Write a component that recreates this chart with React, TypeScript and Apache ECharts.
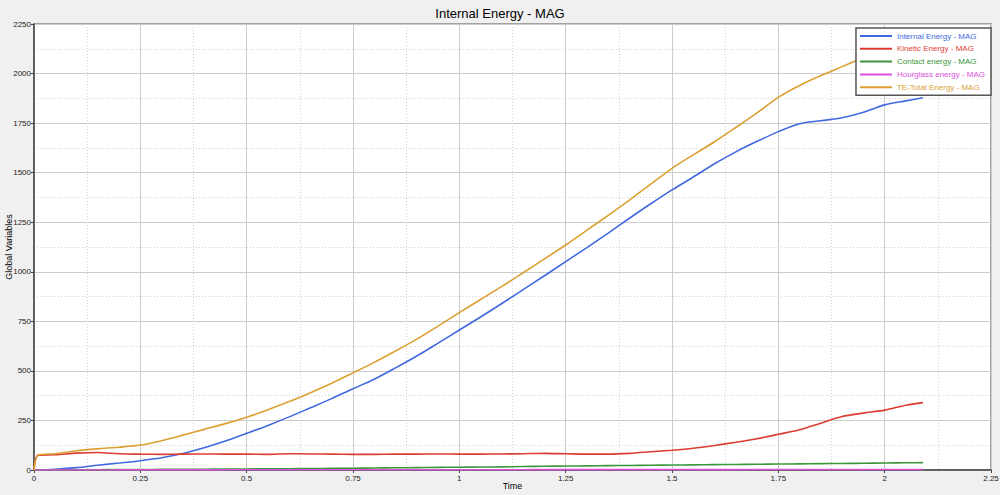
import React, { useEffect, useRef } from "react";
import * as echarts from "echarts";

const timeValues = [0, 0.01, 0.05, 0.1, 0.15, 0.2, 0.25, 0.3, 0.35, 0.4, 0.45, 0.5, 0.55, 0.6, 0.65, 0.7, 0.75, 0.8, 0.85, 0.9, 0.95, 1.0, 1.05, 1.1, 1.15, 1.2, 1.25, 1.3, 1.35, 1.4, 1.45, 1.5, 1.55, 1.6, 1.65, 1.7, 1.75, 1.8, 1.85, 1.9, 1.95, 2.0, 2.05, 2.09];

const internalEnergy = [0, 0.5, 4, 12, 24, 35, 47, 62, 83, 112, 146, 185, 225, 268, 314, 360, 410, 458, 515, 575, 640, 706, 772, 840, 910, 980, 1051, 1122, 1195, 1270, 1343, 1413, 1478, 1545, 1605, 1658, 1707, 1747, 1762, 1777, 1805, 1842, 1862, 1878];

const kineticEnergy = [0, 75, 77, 85, 88, 82, 80, 79, 80, 81, 80, 80, 79, 82, 81, 80, 79, 79, 80, 80, 81, 80, 80, 81, 82, 84, 82, 80, 80, 84, 92, 100, 110, 124, 140, 158, 180, 203, 236, 270, 287, 302, 327, 340];

const contactEnergy = [0, 0, 0.5, 1, 1.5, 2, 2.5, 3, 3.5, 4, 4.5, 5, 6, 6.5, 7, 8, 9, 10, 11, 12, 13, 14, 15, 16, 17.5, 19, 20, 21, 22, 23, 24, 25, 26, 27, 28, 29, 30, 31, 32, 33, 34, 35.5, 36.5, 37];

const hourglassEnergy = [0, 0, 0.1, 0.2, 0.3, 0.4, 0.5, 0.6, 0.7, 0.8, 0.9, 1, 1, 1.1, 1.1, 1.2, 1.2, 1.3, 1.3, 1.4, 1.4, 1.5, 1.5, 1.6, 1.6, 1.7, 1.7, 1.8, 1.8, 1.9, 1.9, 2, 2, 2.1, 2.1, 2.2, 2.2, 2.3, 2.3, 2.4, 2.4, 2.5, 2.5, 2.5];

const totalEnergy = [0, 75, 82, 97, 107, 115, 126, 148, 176, 205, 234, 266, 304, 345, 390, 438, 490, 543, 600, 660, 726, 794, 860, 926, 995, 1065, 1135, 1210, 1285, 1362, 1442, 1522, 1590, 1656, 1728, 1802, 1880, 1940, 1990, 2035, 2080, 2120, 2160, 2190];

const seriesNames = [
  "Internal Energy - MAG",
  "Kinetic Energy - MAG",
  "Contact energy - MAG",
  "Hourglass energy - MAG",
  "TE-Total Energy - MAG",
];
const seriesColors = ["#4169e1", "#dc3c32", "#3c963c", "#dc50dc", "#dca032"];
const seriesValues = [internalEnergy, kineticEnergy, contactEnergy, hourglassEnergy, totalEnergy];

const FONT = "Liberation Sans";

export default function App() {
  const ref = useRef<HTMLDivElement>(null);
  useEffect(() => {
    if (!ref.current) return;
    const chart = echarts.init(ref.current, undefined, { renderer: "svg" });
    const series = seriesNames.map((name, i) => ({
      name,
      type: "line",
      showSymbol: false,
      smooth: 0.3,
      data: timeValues.map((t, j) => [t, seriesValues[i][j]]),
      lineStyle: { color: seriesColors[i], width: 1.6 },
      itemStyle: { color: seriesColors[i] },
    }));
    chart.setOption({
      animation: false,
      backgroundColor: "#f0f0f0",
      textStyle: { fontFamily: FONT },
      title: {
        text: "Internal Energy - MAG",
        left: "center",
        top: 2,
        textStyle: { fontSize: 13, fontWeight: "normal", color: "#000", fontFamily: FONT },
      },
      legend: {
        orient: "vertical",
        right: 9,
        top: 28,
        backgroundColor: "#fff",
        borderColor: "#555",
        borderWidth: 1.5,
        borderRadius: 0,
        padding: [3, 6, 3, 4],
        icon: "rect",
        itemWidth: 32,
        itemHeight: 2,
        itemGap: 2.8,
        textStyle: { fontSize: 8, lineHeight: 10, fontFamily: FONT },
        data: seriesNames.map((n, i) => ({ name: n, textStyle: { color: seriesColors[i] } })),
      },
      grid: {
        left: 34,
        right: 9,
        top: 24,
        bottom: 25,
        outerBoundsMode: "none",
        containLabel: false,
        show: true,
        backgroundColor: "#fff",
        borderColor: "#888",
        borderWidth: 1.5,
      },
      xAxis: {
        type: "value",
        min: 0,
        max: 2.25,
        interval: 0.25,
        name: "Time",
        nameLocation: "middle",
        nameGap: 11,
        nameMoveOverlap: false,
        nameTextStyle: { fontSize: 9, color: "#000", fontFamily: FONT },
        axisLine: { show: true, onZero: false, lineStyle: { color: "#444", width: 1.5 } },
        axisTick: { show: true, length: 3, lineStyle: { color: "#444" } },
        axisLabel: { fontSize: 8, color: "#222", margin: 4, formatter: (v: number) => String(v) },
        splitLine: { show: true, lineStyle: { color: "#cccccc", width: 1 } },
        minorTick: { show: false, splitNumber: 2 },
        minorSplitLine: { show: true, lineStyle: { color: "#d0d0d0", type: [1, 2], width: 1 } },
      },
      yAxis: {
        type: "value",
        min: 0,
        max: 2250,
        interval: 250,
        name: "Global Variables",
        nameLocation: "middle",
        nameGap: 21,
        nameMoveOverlap: false,
        nameTextStyle: { fontSize: 9, color: "#000", fontFamily: FONT },
        axisLine: { show: true, onZero: false, lineStyle: { color: "#444", width: 1.5 } },
        axisTick: { show: true, length: 3, lineStyle: { color: "#444" } },
        axisLabel: { fontSize: 8, color: "#222", margin: 3, formatter: (v: number) => String(v) },
        splitLine: { show: true, lineStyle: { color: "#cccccc", width: 1 } },
        minorTick: { show: false, splitNumber: 2 },
        minorSplitLine: { show: true, lineStyle: { color: "#d0d0d0", type: [1, 2], width: 1 } },
      },
      series,
    });
    return () => chart.dispose();
  }, []);
  return (
    <div
      ref={ref}
      style={{ position: "fixed", left: 0, top: 0, width: 1000, height: 495 }}
    />
  );
}
